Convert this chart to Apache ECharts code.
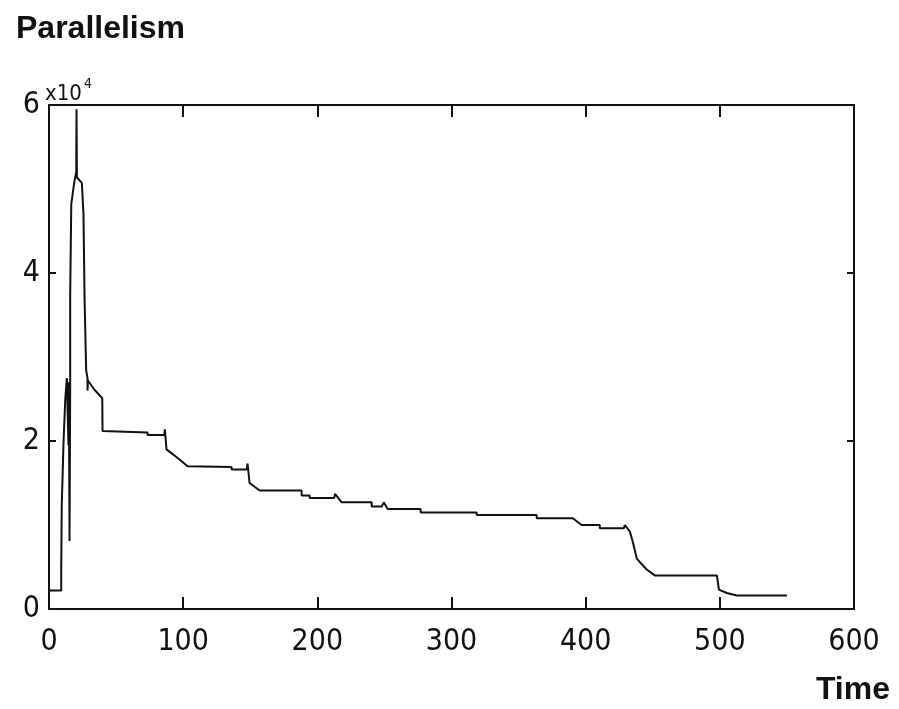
<!DOCTYPE html>
<html>
<head>
<meta charset="utf-8">
<script src="https://cdn.jsdelivr.net/npm/echarts@6/dist/echarts.min.js"></script>
<style>
    html, body { margin: 0; padding: 0; background: #fff; }
    #chart { width: 899px; height: 709px; }
</style>
</head>
<body>
<div id="chart"></div>
<script>
(function(){
    'use strict';

    // time axis and parallelism (units of 10^4)
    var times = [
        0, 9.1, 9.1, 9.5, 9.5, 10.8, 10.8, 12.1, 12.1, 13.3, 13.3, 14.5, 14.5, 14.8, 15.3, 15.3,
        15.8, 15.8, 16.6, 16.6, 19.0, 20.3, 20.5, 20.8, 24.5, 25.7, 26.5, 27.7, 28.7, 28.7, 29.0,
        33.9, 39.7, 39.9, 73.5, 73.5, 86.0, 86.3, 87.6, 97.3, 103.3, 136.1, 136.1, 147.3, 148.0,
        149.5, 157.0, 188.3, 188.3, 194.3, 194.3, 212.5, 213.2, 218.1, 240.5, 240.5, 248.0, 249.5,
        252.4, 277.0, 277.0, 318.8, 318.8, 363.5, 363.5, 390.4, 397.0, 410.5, 410.5, 428.4, 429.2,
        433.0, 435.1, 438.1, 440.3, 445.5, 451.5, 497.8, 499.3, 505.2, 512.7, 550.0
    ];
    var parallelism = [
        0.22, 0.22, 0.44, 0.44, 1.23, 1.23, 1.97, 1.97, 2.49, 2.49, 2.75, 2.75, 1.95, 2.7, 2.7, 0.81,
        2.72, 3.75, 3.75, 4.82, 5.1, 5.2, 5.95, 5.14, 5.07, 4.7, 3.71, 2.84, 2.75, 2.6, 2.72,
        2.61, 2.51, 2.12, 2.1, 2.07, 2.07, 2.14, 1.9, 1.78, 1.7, 1.69, 1.66, 1.66, 1.73,
        1.5, 1.41, 1.41, 1.35, 1.35, 1.32, 1.32, 1.37, 1.27, 1.27, 1.22, 1.22, 1.27,
        1.19, 1.19, 1.15, 1.15, 1.12, 1.12, 1.08, 1.08, 1.0, 1.0, 0.96, 0.96, 1.0,
        0.92, 0.8, 0.6, 0.56, 0.47, 0.4, 0.4, 0.23, 0.19, 0.16, 0.16
    ];
    var xTicks = [0, 100, 200, 300, 400, 500, 600];
    var yTicks = [0, 2, 4, 6];

    var data = [];
    for (var i = 0; i < times.length; i++) {
        data.push([times[i], parallelism[i] * 10000]);
    }

    var narrow = '"Liberation Sans Narrow", "DejaVu Sans Condensed", sans-serif';
    var bold = '"Liberation Sans", Arial, sans-serif';
    var lineStyle = {color: '#111', width: 2};

    var myChart = echarts.init(document.getElementById('chart'));
    var option = {
        animation: false,
        backgroundColor: '#fff',
        title: [
            {
                text: 'Parallelism', left: 11, top: 8,
                textStyle: {fontFamily: bold, fontWeight: 'bold', fontSize: 32, color: '#111'}
            },
            {
                text: 'Time', right: 4, bottom: -2,
                textStyle: {fontFamily: bold, fontWeight: 'bold', fontSize: 32, color: '#111'}
            }
        ],
        graphic: [
            {type: 'text', left: 45, top: 83, style: {text: 'x10', font: '22px ' + narrow, fill: '#111'}},
            {type: 'text', left: 84, top: 77, style: {text: '4', font: '14px ' + narrow, fill: '#111'}}
        ],
        grid: {left: 49, right: 45, top: 105, bottom: 100, containLabel: false},
        xAxis: [
            {
                type: 'value', position: 'bottom',
                min: xTicks[0], max: xTicks[xTicks.length - 1], interval: 100,
                axisLine: {show: true, onZero: false, lineStyle: lineStyle},
                axisTick: {show: true, inside: true, length: 12, lineStyle: lineStyle},
                axisLabel: {margin: 18, fontFamily: narrow, fontSize: 30, color: '#111'},
                splitLine: {show: false}
            },
            {
                type: 'value', position: 'top',
                min: xTicks[0], max: xTicks[xTicks.length - 1], interval: 100,
                axisLine: {show: true, onZero: false, lineStyle: lineStyle},
                axisTick: {show: true, inside: true, length: 12, lineStyle: lineStyle},
                axisLabel: {show: false},
                splitLine: {show: false}
            }
        ],
        yAxis: [
            {
                type: 'value', position: 'left',
                min: yTicks[0] * 10000, max: yTicks[yTicks.length - 1] * 10000, interval: 20000,
                axisLine: {show: true, onZero: false, lineStyle: lineStyle},
                axisTick: {show: true, inside: true, length: 7, lineStyle: lineStyle},
                axisLabel: {
                    margin: 9, fontFamily: narrow, fontSize: 30, color: '#111',
                    formatter: function(v){ return String(v / 10000); }
                },
                splitLine: {show: false}
            },
            {
                type: 'value', position: 'right',
                min: yTicks[0] * 10000, max: yTicks[yTicks.length - 1] * 10000, interval: 20000,
                axisLine: {show: true, onZero: false, lineStyle: lineStyle},
                axisTick: {show: true, inside: true, length: 7, lineStyle: lineStyle},
                axisLabel: {show: false},
                splitLine: {show: false}
            }
        ],
        series: [
            {
                type: 'line',
                xAxisIndex: 0,
                yAxisIndex: 0,
                data: data,
                showSymbol: false,
                symbol: 'none',
                lineStyle: {color: '#111', width: 2},
                z: 1
            }
        ]
    };
    myChart.setOption(option);
})();
</script>
</body>
</html>
